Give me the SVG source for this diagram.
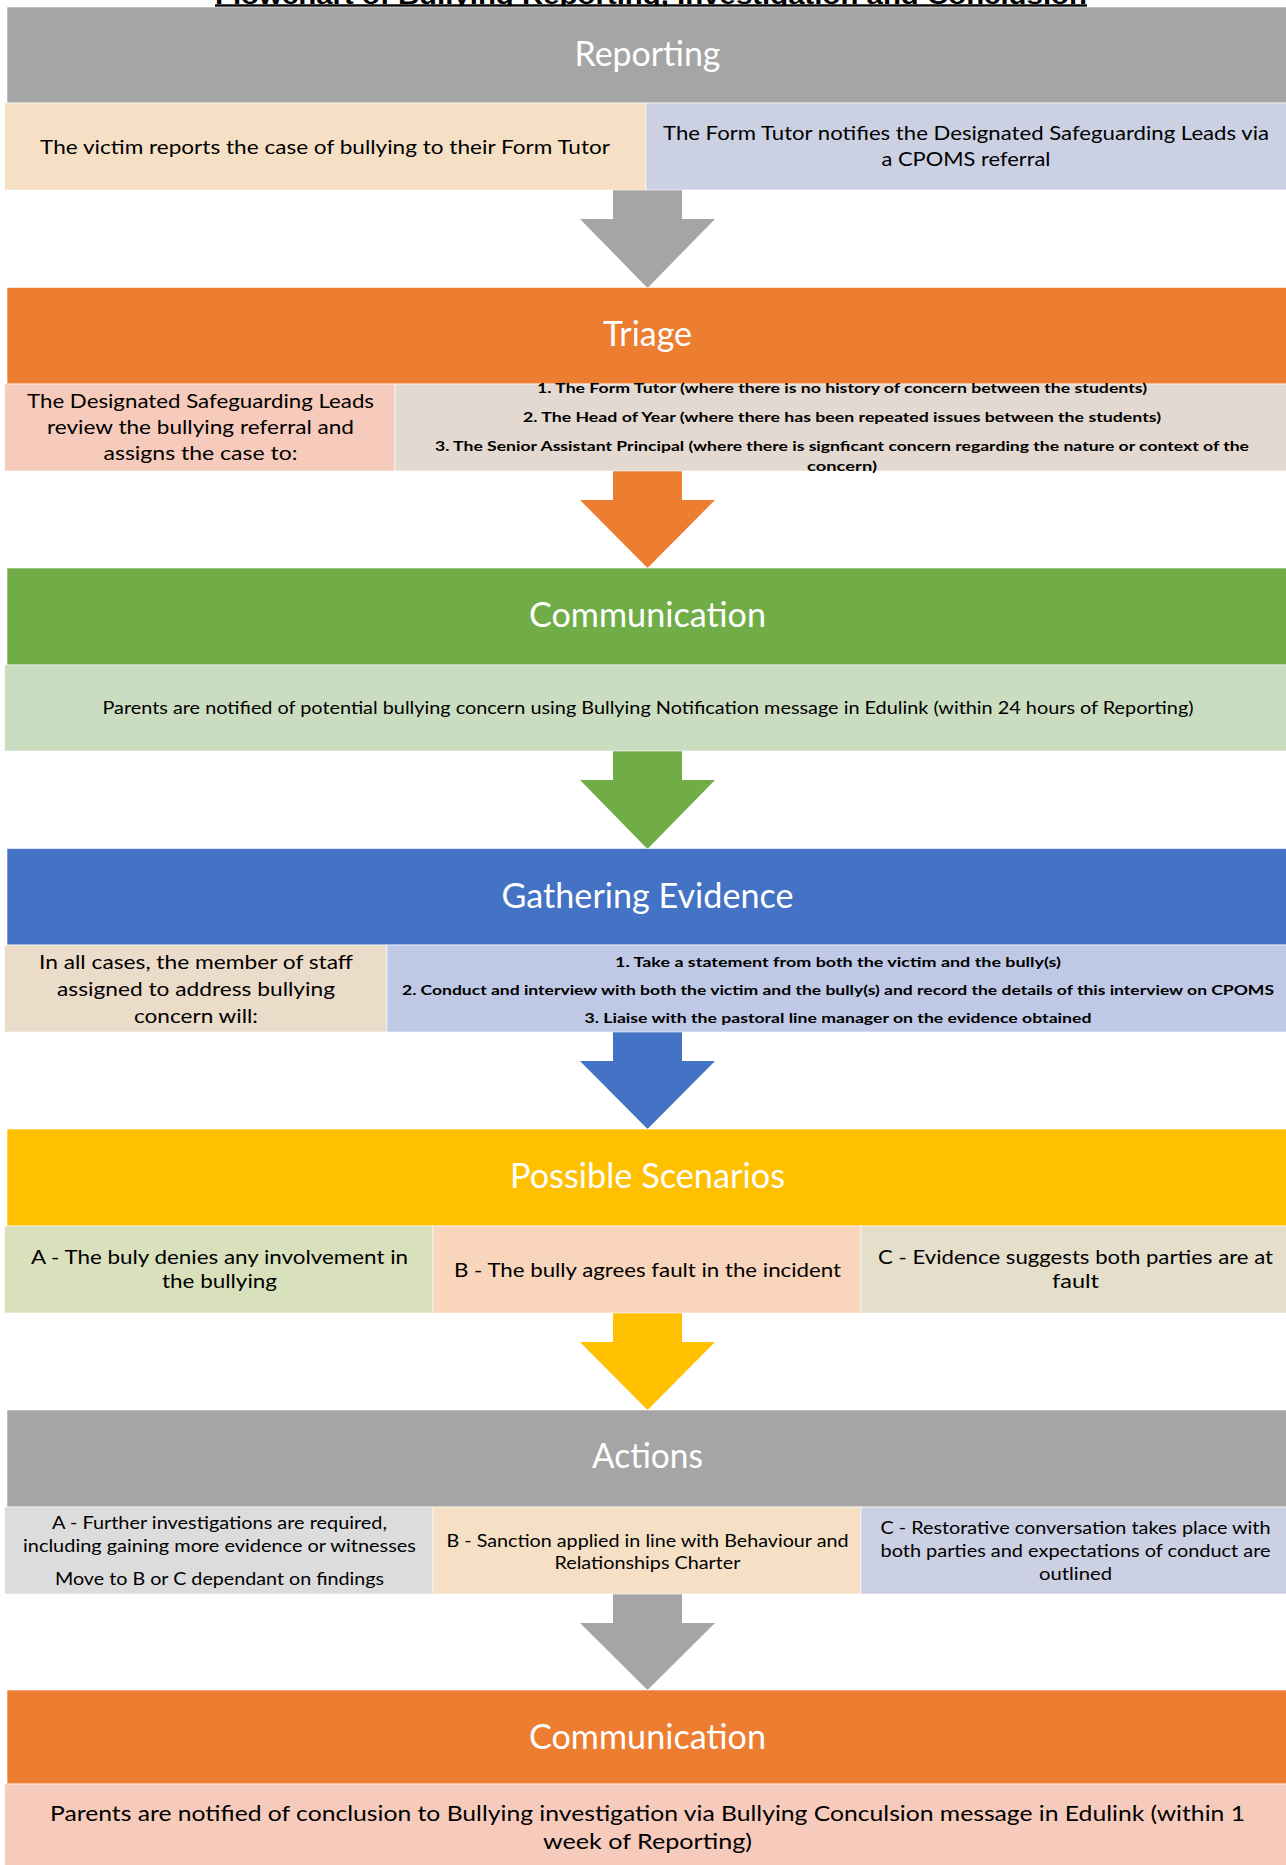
<svg xmlns="http://www.w3.org/2000/svg" width="1286" height="1865" viewBox="0 0 1286 1865">
<style>
.h{font-family:Lato,"Open Sans","Liberation Sans",sans-serif;font-size:34px;fill:#fff;text-anchor:middle}
.t{font-family:Lato,"Open Sans","Liberation Sans",sans-serif;fill:#000;text-anchor:middle}
.bd{font-weight:bold;font-size:14px}
.c{stroke:#fff;stroke-width:1;stroke-opacity:.6}
.title{font-family:"Liberation Sans",Arial,sans-serif;font-weight:bold;font-size:24px;fill:#000;text-anchor:middle}
</style>
<rect width="1286" height="1865" fill="#fff"/>
<g id="title">
<text class="title" x="651" y="3.5" textLength="872" lengthAdjust="spacingAndGlyphs">Flowchart of Bullying Reporting, Investigation and Conclusion</text>
<rect x="215" y="4.3" width="872" height="2.6" fill="#000"/>
</g>
<g id="connectors">
<polygon fill="#A5A5A5" points="613,190 682,190 682,219 715,219 647.5,288 580,219 613,219"/>
<polygon fill="#ED7D31" points="613,471 682,471 682,500 715,500 647.5,568 580,500 613,500"/>
<polygon fill="#70AD47" points="613,751 682,751 682,780 715,780 647.5,849 580,780 613,780"/>
<polygon fill="#4472C4" points="613,1032 682,1032 682,1061 715,1061 647.5,1129 580,1061 613,1061"/>
<polygon fill="#FFC000" points="613,1313 682,1313 682,1342 715,1342 647.5,1410 580,1342 613,1342"/>
<polygon fill="#A5A5A5" points="613,1594 682,1594 682,1623 715,1623 647.5,1690 580,1623 613,1623"/>
</g>
<g id="reporting">
<rect class="c" x="7" y="7" width="1285" height="96" fill="#A5A5A5"/>
<text class="h" x="647.5" y="66" textLength="146" lengthAdjust="spacingAndGlyphs">Reporting</text>
</g>
<g id="reporting-victim">
<rect class="c" x="4.5" y="103" width="641.5" height="87" fill="#F5E0C6"/>
<text class="t" x="325" y="154" font-size="20" textLength="570" lengthAdjust="spacingAndGlyphs">The victim reports the case of bullying to their Form Tutor</text>
</g>
<g id="reporting-tutor">
<rect class="c" x="646" y="103" width="646" height="87" fill="#CBD0E3"/>
<text class="t" font-size="20"><tspan x="966" y="140" textLength="606" lengthAdjust="spacingAndGlyphs">The Form Tutor notifies the Designated Safeguarding Leads via</tspan><tspan x="966" y="166" textLength="169" lengthAdjust="spacingAndGlyphs">a CPOMS referral</tspan></text>
</g>
<g id="triage">
<rect class="c" x="7" y="287.5" width="1285" height="96.5" fill="#ED7D31"/>
<text class="h" x="647.5" y="346" textLength="89" lengthAdjust="spacingAndGlyphs">Triage</text>
</g>
<g id="triage-dsl">
<rect class="c" x="4.5" y="384" width="390.5" height="87" fill="#F7CBBC"/>
<text class="t" font-size="20"><tspan x="200.5" y="408" textLength="347" lengthAdjust="spacingAndGlyphs">The Designated Safeguarding Leads</tspan><tspan x="200.5" y="434" textLength="307" lengthAdjust="spacingAndGlyphs">review the bullying referral and</tspan><tspan x="200.5" y="460" textLength="194" lengthAdjust="spacingAndGlyphs">assigns the case  to:</tspan></text>
</g>
<g id="triage-options">
<rect class="c" x="395" y="384" width="897" height="87" fill="#E3D9D1"/>
<text class="t bd"><tspan x="842" y="393" textLength="610" lengthAdjust="spacingAndGlyphs">1. The Form Tutor (where there is no history of concern between the students)</tspan><tspan x="842" y="422" textLength="638" lengthAdjust="spacingAndGlyphs">2. The Head of Year (where there has been repeated issues between the students)</tspan><tspan x="842" y="451" textLength="814" lengthAdjust="spacingAndGlyphs">3. The Senior Assistant Principal (where there is signficant concern regarding the nature or context of the</tspan><tspan x="842" y="471" textLength="70" lengthAdjust="spacingAndGlyphs">concern)</tspan></text>
</g>
<g id="communication-1">
<rect class="c" x="7" y="568" width="1285" height="97" fill="#70AD47"/>
<text class="h" x="647.5" y="627" textLength="237" lengthAdjust="spacingAndGlyphs">Communication</text>
</g>
<g id="communication-1-detail">
<rect class="c" x="4.5" y="665" width="1287.5" height="86" fill="#CBDDC0"/>
<text class="t" x="648" y="714" font-size="17" textLength="1091" lengthAdjust="spacingAndGlyphs">Parents are notified of potential bullying concern using Bullying Notification message in Edulink (within 24 hours of Reporting)</text>
</g>
<g id="evidence">
<rect class="c" x="7" y="848.5" width="1285" height="96.5" fill="#4472C4"/>
<text class="h" x="647.5" y="908" textLength="292" lengthAdjust="spacingAndGlyphs">Gathering Evidence</text>
</g>
<g id="evidence-staff">
<rect class="c" x="4.5" y="945" width="382.5" height="87" fill="#EBDBC9"/>
<text class="t" font-size="20"><tspan x="196" y="969" textLength="314" lengthAdjust="spacingAndGlyphs">In all cases, the member of staff</tspan><tspan x="196" y="996" textLength="278" lengthAdjust="spacingAndGlyphs">assigned to address bullying</tspan><tspan x="196" y="1023" textLength="124" lengthAdjust="spacingAndGlyphs">concern will:</tspan></text>
</g>
<g id="evidence-steps">
<rect class="c" x="387" y="945" width="905" height="87" fill="#BFC9E6"/>
<text class="t bd"><tspan x="838" y="967" textLength="446" lengthAdjust="spacingAndGlyphs">1. Take a statement from both the victim and the bully(s)</tspan><tspan x="838" y="995" textLength="872" lengthAdjust="spacingAndGlyphs">2. Conduct and interview with both the victim and the bully(s) and record the details of this interview on CPOMS</tspan><tspan x="838" y="1023" textLength="507" lengthAdjust="spacingAndGlyphs">3. Liaise with the pastoral line manager on the evidence obtained</tspan></text>
</g>
<g id="scenarios">
<rect class="c" x="7" y="1129" width="1285" height="97" fill="#FFC000"/>
<text class="h" x="647.5" y="1188" textLength="275" lengthAdjust="spacingAndGlyphs">Possible Scenarios</text>
</g>
<g id="scenario-a">
<rect class="c" x="4.5" y="1226" width="428.5" height="87" fill="#D9E0BC"/>
<text class="t" font-size="19"><tspan x="219.5" y="1264" textLength="377" lengthAdjust="spacingAndGlyphs">A - The buly denies any involvement in</tspan><tspan x="219.5" y="1288" textLength="115" lengthAdjust="spacingAndGlyphs">the bullying</tspan></text>
</g>
<g id="scenario-b">
<rect class="c" x="433" y="1226" width="428" height="87" fill="#F8D5BB"/>
<text class="t" x="647.5" y="1277" font-size="19" textLength="387" lengthAdjust="spacingAndGlyphs">B - The bully agrees fault in the incident</text>
</g>
<g id="scenario-c">
<rect class="c" x="861" y="1226" width="431" height="87" fill="#E4DECB"/>
<text class="t" font-size="19"><tspan x="1075.5" y="1264" textLength="395" lengthAdjust="spacingAndGlyphs">C - Evidence suggests both parties are at</tspan><tspan x="1075.5" y="1288" textLength="47" lengthAdjust="spacingAndGlyphs">fault</tspan></text>
</g>
<g id="actions">
<rect class="c" x="7" y="1410" width="1285" height="97" fill="#A5A5A5"/>
<text class="h" x="647.5" y="1468" textLength="111" lengthAdjust="spacingAndGlyphs">Actions</text>
</g>
<g id="action-a">
<rect class="c" x="4.5" y="1507" width="428.5" height="87" fill="#DCDCDC"/>
<text class="t" font-size="17.5"><tspan x="219.5" y="1529" textLength="335" lengthAdjust="spacingAndGlyphs">A - Further investigations are required,</tspan><tspan x="219.5" y="1552" textLength="393" lengthAdjust="spacingAndGlyphs">including gaining more evidence or witnesses</tspan><tspan x="219.5" y="1585" textLength="329" lengthAdjust="spacingAndGlyphs">Move to B or C dependant  on findings</tspan></text>
</g>
<g id="action-b">
<rect class="c" x="433" y="1507" width="428" height="87" fill="#F5E0C6"/>
<text class="t" font-size="17.5"><tspan x="647.5" y="1547" textLength="402" lengthAdjust="spacingAndGlyphs">B - Sanction applied in line with Behaviour and</tspan><tspan x="647.5" y="1569" textLength="186" lengthAdjust="spacingAndGlyphs">Relationships Charter</tspan></text>
</g>
<g id="action-c">
<rect class="c" x="861" y="1507" width="431" height="87" fill="#CBD0E3"/>
<text class="t" font-size="17.5"><tspan x="1075.5" y="1534" textLength="390" lengthAdjust="spacingAndGlyphs">C - Restorative conversation takes place with</tspan><tspan x="1075.5" y="1557" textLength="390" lengthAdjust="spacingAndGlyphs">both parties and expectations  of conduct are</tspan><tspan x="1075.5" y="1580" textLength="73" lengthAdjust="spacingAndGlyphs">outlined</tspan></text>
</g>
<g id="communication-2">
<rect class="c" x="7" y="1690" width="1285" height="94" fill="#ED7D31"/>
<text class="h" x="647.5" y="1749" textLength="237" lengthAdjust="spacingAndGlyphs">Communication</text>
</g>
<g id="communication-2-detail">
<rect class="c" x="4.5" y="1784" width="1287.5" height="90" fill="#F7CBBC"/>
<text class="t" font-size="21"><tspan x="647.5" y="1821" textLength="1195" lengthAdjust="spacingAndGlyphs">Parents are notified of conclusion to Bullying investigation via Bullying Conculsion message in Edulink (within 1</tspan><tspan x="647.5" y="1849" textLength="209" lengthAdjust="spacingAndGlyphs">week of Reporting)</tspan></text>
</g>
</svg>
